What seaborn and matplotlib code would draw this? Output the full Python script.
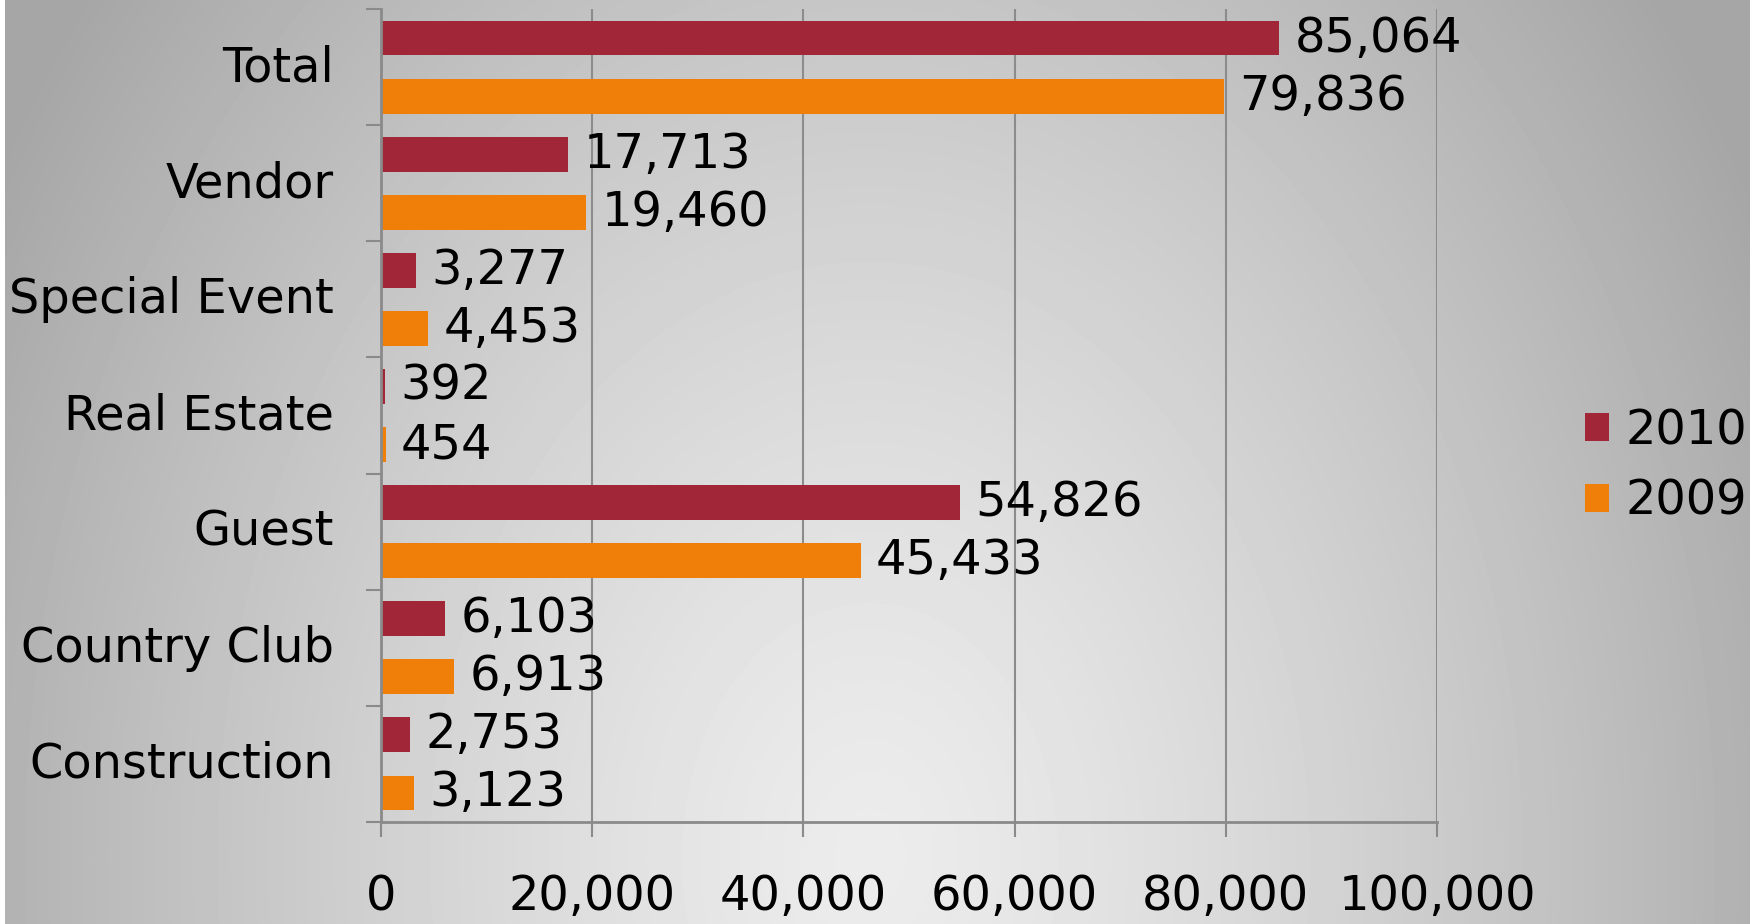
import matplotlib
matplotlib.use('Agg')
import matplotlib.pyplot as plt
import matplotlib.transforms as mtransforms
from matplotlib.patches import Patch
from matplotlib.ticker import FuncFormatter, FixedLocator
import seaborn as sns
import numpy as np
import pandas as pd

categories = ['Total', 'Vendor', 'Special Event', 'Real Estate', 'Guest', 'Country Club', 'Construction']
years = ['2010', '2009']
values_2010 = [85064, 17713, 3277, 392, 54826, 6103, 2753]
values_2009 = [79836, 19460, 4453, 454, 45433, 6913, 3123]
x_ticks = [0, 20000, 40000, 60000, 80000, 100000]
colors = ['#A12638', '#F07F0A']

df = pd.DataFrame({
    'category': categories * 2,
    'value': values_2010 + values_2009,
    'year': [years[0]] * len(categories) + [years[1]] * len(categories),
})

W, H = 1763, 924
fs = 34.5
sns.set_theme(style='white')
plt.rcParams['font.family'] = ['DejaVu Sans']
plt.rcParams['text.color'] = 'black'

fig = plt.figure(figsize=(W / 100, H / 100), dpi=100)
fig.patch.set_facecolor('white')

# grey gradient behind everything, lightest near the bottom middle
bg = fig.add_axes([5 / W, 0, 1745 / W, 1], zorder=0)
xx, yy = np.meshgrid(np.linspace(5, 1750, 400), np.linspace(0, H, 220))
r = np.sqrt(((xx - 870) / 920) ** 2 + ((yy - 860) / 1250) ** 2)
shade = 236 - 62 * np.clip(r, 0, 1.1) ** 1.3
bg.imshow(shade, cmap='gray', vmin=0, vmax=255, aspect='auto',
          extent=[0, 1, 0, 1], origin='upper', interpolation='bilinear')
bg.set_axis_off()

ax = fig.add_axes([381 / W, 1 - 822 / H, (1437 - 381) / W, (822 - 9) / H], zorder=1)
ax.set_facecolor('none')

sns.barplot(data=df, y='category', x='value', hue='year', orient='h',
            order=categories, hue_order=years, palette=colors, saturation=1,
            width=1.0, gap=0.4, linewidth=0, ax=ax, legend=False)

ax.set_xlim(0, 100000)
ax.set_ylim(len(categories) - 0.5, -0.5)
ax.set_xlabel('')
ax.set_ylabel('')

ax.xaxis.set_major_locator(FixedLocator(x_ticks))
ax.xaxis.set_major_formatter(FuncFormatter(lambda v, p: f'{int(v):,}'))
ax.grid(axis='x', color='#8C8C8C', linewidth=1.5)
ax.grid(axis='y', visible=False)
ax.set_axisbelow(True)

for side in ['top', 'right']:
    ax.spines[side].set_visible(False)
for side in ['left', 'bottom']:
    ax.spines[side].set_color('#8A8A8A')
    ax.spines[side].set_linewidth(2)

ax.tick_params(axis='x', bottom=True, direction='out', length=11, width=1.5,
               color='#8A8A8A', labelsize=fs, pad=26, labelcolor='black')
ax.tick_params(axis='y', which='major', left=False, length=0, labelsize=fs,
               pad=34, labelcolor='black')
ax.yaxis.set_minor_locator(FixedLocator(np.arange(-0.5, len(categories), 1.0)))
ax.tick_params(axis='y', which='minor', left=True, direction='out', length=11,
               width=1.5, color='#8A8A8A')

# nudge category names up a little
shift_up = mtransforms.ScaledTranslation(0, 4.5 / 100, fig.dpi_scale_trans)
for lbl in ax.get_yticklabels():
    lbl.set_transform(lbl.get_transform() + shift_up)

shift_down = mtransforms.ScaledTranslation(0, -3 / 100, fig.dpi_scale_trans)
for cont in ax.containers:
    texts = ax.bar_label(cont, labels=[f'{int(b.get_width()):,}' for b in cont],
                         padding=11, fontsize=fs, color='black')
    for t in texts:
        t.set_transform(t.get_transform() + shift_down)

handles = [Patch(facecolor=c, edgecolor='none', label=y) for c, y in zip(colors, years)]
fig.legend(handles=handles, loc='center left', bbox_to_anchor=(1585 / W, 1 - 466 / H),
           frameon=False, fontsize=fs, handlelength=0.5, handleheight=0.5,
           handletextpad=0.35, labelspacing=0.5, borderpad=0, borderaxespad=0)

fig.savefig('out.png', dpi=100)
